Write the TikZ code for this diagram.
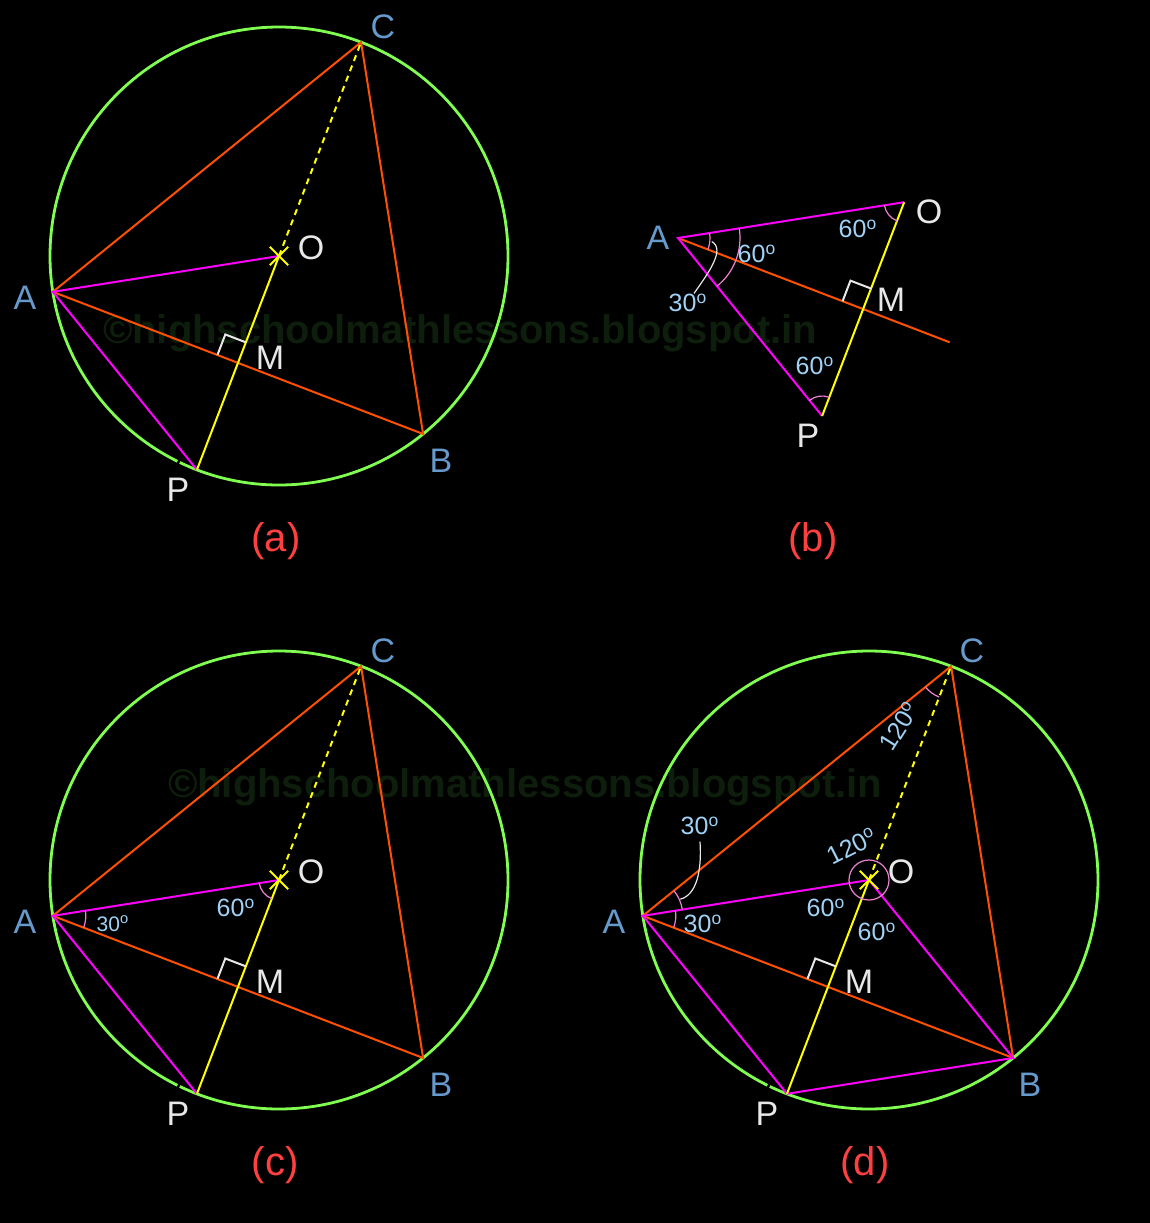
\documentclass[tikz,border=0pt]{standalone}
\usepackage{fontspec}
\setmainfont{Liberation Sans}
\usepackage{tikz}

\definecolor{rimgreen}{RGB}{128,255,80}
\definecolor{chordred}{RGB}{255,80,0}
\definecolor{spokemag}{RGB}{255,0,255}
\definecolor{axisyel}{RGB}{255,255,0}
\definecolor{ptblue}{RGB}{102,153,204}
\definecolor{degblue}{RGB}{160,210,245}
\definecolor{arcpink}{RGB}{240,130,210}
\definecolor{capred}{RGB}{255,64,64}
\definecolor{markgrey}{RGB}{232,232,232}
\definecolor{wmgreen}{RGB}{14,30,12}

\begin{document}
\begin{tikzpicture}[x=0.5pt,y=0.5pt,
    rim/.style={draw=rimgreen, line width=1.4pt},
    gapmark/.style={draw=black, line width=1.2pt},
    chord/.style={draw=chordred, line width=1pt},
    spoke/.style={draw=spokemag, line width=1pt},
    axis/.style={draw=axisyel, line width=1pt},
    dashaxis/.style={draw=axisyel, line width=1pt, dash pattern=on 3pt off 2.5pt},
    angarc/.style={draw=arcpink, line width=0.6pt},
    leader/.style={draw=markgrey, line width=0.6pt},
    rtmark/.style={draw=markgrey, line width=1pt},
    ptname/.style={text=ptblue, font=\fontsize{17}{17}\selectfont},
    ctrname/.style={text=markgrey, font=\fontsize{17}{17}\selectfont},
    deg/.style={text=degblue, font=\fontsize{12.5}{12.5}\selectfont, inner sep=0pt},
    smalldeg/.style={text=degblue, font=\fontsize{10.5}{10.5}\selectfont, inner sep=0pt},
    caption/.style={text=capred, font=\fontsize{20}{20}\selectfont},
    wmark/.style={text=wmgreen, font=\bfseries\fontsize{20}{20}\selectfont}]
    \useasboundingbox (0,0) rectangle (1150,-1223);
    \fill[black] (0,0) rectangle (1150,-1223);
    % Watermarks
    \node[wmark] (wm1) at (460,-333) {\textcopyright highschoolmathlessons.blogspot.in};
    \node[wmark] (wm2) at (525,-787) {\textcopyright highschoolmathlessons.blogspot.in};

    % (a)
    \coordinate (Oa) at (279,-256);
    \coordinate (Aa) at ([shift={(Oa)}]189:229);
    \coordinate (Ba) at ([shift={(Oa)}]309:229);
    \coordinate (Ca) at ([shift={(Oa)}]69:229);
    \coordinate (Pa) at ([shift={(Oa)}]249:229);
    \coordinate (Ma) at ([shift={(Oa)}]249:114.5);
    \draw[rim] (Oa) circle[radius=229];
    \draw[gapmark] ([shift={(Oa)}]244:224) -- ([shift={(Oa)}]244:234);
    \draw[chord] (Aa) -- (Ca) -- (Ba) -- cycle;
    \draw[spoke] (Pa) -- (Aa) -- (Oa);
    \draw[axis] (Pa) -- (Oa);
    \draw[dashaxis] (Oa) -- (Ca);
    \draw[axis] ([shift={(Oa)}]45:13) -- ([shift={(Oa)}]225:13);
    \draw[axis] ([shift={(Oa)}]135:13) -- ([shift={(Oa)}]315:13);
    \draw[rtmark] ([shift={(Ma)}]159:22) -- ++(69:22) -- ([shift={(Ma)}]69:22);
    \node[ptname] (lCa) at (383,-27) {C};
    \node[ptname] (lAa) at (25,-298) {A};
    \node[ptname] (lBa) at (441,-461) {B};
    \node[ctrname] (lOa) at (311,-248) {O};
    \node[ctrname] (lMa) at (270,-358) {M};
    \node[ctrname] (lPa) at (178,-490) {P};
    \node[caption] (capa) at (276,-541) {(a)};

    % (b)
    \coordinate (Ab) at (678,-238);
    \coordinate (Ob) at ([shift={(Ab)}]9:229);
    \coordinate (Pb) at ([shift={(Ab)}]-51:229);
    \coordinate (Mb) at ([shift={(Ab)}]-21:198.3);
    \coordinate (Eb) at ([shift={(Ab)}]-21:291);
    \draw[chord] (Ab) -- (Eb);
    \draw[spoke] (Ob) -- (Ab) -- (Pb);
    \draw[axis] (Pb) -- (Ob);
    \draw[rtmark] ([shift={(Mb)}]159:22) -- ++(69:22) -- ([shift={(Mb)}]69:22);
    \draw[angarc] ([shift={(Ab)}]-21:32) arc[start angle=-21, end angle=9, radius=32];
    \draw[angarc] ([shift={(Ab)}]-51:62) arc[start angle=-51, end angle=9, radius=62];
    \draw[angarc] ([shift={(Ob)}]189:20) arc[start angle=189, end angle=249, radius=20];
    \draw[angarc] ([shift={(Pb)}]69:20) arc[start angle=69, end angle=129, radius=20];
    \node[deg] (d60b) at (757,-254) {60\textsuperscript{o}};
    \node[deg] (d30b) at (688,-303) {30\textsuperscript{o}};
    \node[deg] (d60bo) at (858,-229) {60\textsuperscript{o}};
    \node[deg] (d60bp) at (815,-366) {60\textsuperscript{o}};
    \coordinate (kb) at ([shift={(Ab)}]-6:34);
    \draw[leader] (kb) .. controls +(14,-8) and +(14,20) .. ([xshift=3pt]d30b.north);
    \node[ptname] (lAb) at (658,-238) {A};
    \node[ctrname] (lOb) at (929,-212) {O};
    \node[ctrname] (lMb) at (891,-300) {M};
    \node[ctrname] (lPb) at (808,-436) {P};
    \node[caption] (capb) at (813,-541) {(b)};

    % (c)
    \coordinate (Oc) at (279,-880);
    \coordinate (Ac) at ([shift={(Oc)}]189:229);
    \coordinate (Bc) at ([shift={(Oc)}]309:229);
    \coordinate (Cc) at ([shift={(Oc)}]69:229);
    \coordinate (Pc) at ([shift={(Oc)}]249:229);
    \coordinate (Mc) at ([shift={(Oc)}]249:114.5);
    \draw[rim] (Oc) circle[radius=229];
    \draw[gapmark] ([shift={(Oc)}]244:224) -- ([shift={(Oc)}]244:234);
    \draw[chord] (Ac) -- (Cc) -- (Bc) -- cycle;
    \draw[spoke] (Pc) -- (Ac) -- (Oc);
    \draw[axis] (Pc) -- (Oc);
    \draw[dashaxis] (Oc) -- (Cc);
    \draw[axis] ([shift={(Oc)}]45:13) -- ([shift={(Oc)}]225:13);
    \draw[axis] ([shift={(Oc)}]135:13) -- ([shift={(Oc)}]315:13);
    \draw[rtmark] ([shift={(Mc)}]159:22) -- ++(69:22) -- ([shift={(Mc)}]69:22);
    \draw[angarc] ([shift={(Ac)}]-21:33) arc[start angle=-21, end angle=9, radius=33];
    \draw[angarc] ([shift={(Oc)}]189:20) arc[start angle=189, end angle=249, radius=20];
    \node[smalldeg] (d30c) at (113,-924) {30\textsuperscript{o}};
    \node[deg] (d60c) at (236,-908) {60\textsuperscript{o}};
    \node[ptname] (lCc) at (383,-651) {C};
    \node[ptname] (lAc) at (25,-922) {A};
    \node[ptname] (lBc) at (441,-1085) {B};
    \node[ctrname] (lOc) at (311,-872) {O};
    \node[ctrname] (lMc) at (270,-982) {M};
    \node[ctrname] (lPc) at (178,-1114) {P};
    \node[caption] (capc) at (275,-1165) {(c)};

    % (d)
    \coordinate (Od) at (869,-880);
    \coordinate (Ad) at ([shift={(Od)}]189:229);
    \coordinate (Bd) at ([shift={(Od)}]309:229);
    \coordinate (Cd) at ([shift={(Od)}]69:229);
    \coordinate (Pd) at ([shift={(Od)}]249:229);
    \coordinate (Md) at ([shift={(Od)}]249:114.5);
    \draw[rim] (Od) circle[radius=229];
    \draw[gapmark] ([shift={(Od)}]244:224) -- ([shift={(Od)}]244:234);
    \draw[chord] (Ad) -- (Cd) -- (Bd) -- cycle;
    \draw[spoke] (Pd) -- (Ad) -- (Od) -- (Bd) -- (Pd);
    \draw[axis] (Pd) -- (Od);
    \draw[dashaxis] (Od) -- (Cd);
    \draw[axis] ([shift={(Od)}]45:13) -- ([shift={(Od)}]225:13);
    \draw[axis] ([shift={(Od)}]135:13) -- ([shift={(Od)}]315:13);
    \draw[rtmark] ([shift={(Md)}]159:22) -- ++(69:22) -- ([shift={(Md)}]69:22);
    \draw[angarc] ([shift={(Ad)}]-21:33) arc[start angle=-21, end angle=9, radius=33];
    \draw[angarc] ([shift={(Ad)}]9:40) arc[start angle=9, end angle=39, radius=40];
    \draw[angarc] (Od) circle[radius=20];
    \draw[angarc] ([shift={(Cd)}]219:33) arc[start angle=219, end angle=249, radius=33];
    \node[deg] (d30d) at (703,-924) {30\textsuperscript{o}};
    \node[deg] (d30du) at (700,-826) {30\textsuperscript{o}};
    \node[deg] (d60d) at (826,-908) {60\textsuperscript{o}};
    \node[deg] (d60dr) at (877,-932) {60\textsuperscript{o}};
    \node[deg, rotate=27] (d120o) at (852,-846) {120\textsuperscript{o}};
    \node[deg, rotate=58] (d120c) at (899,-726) {120\textsuperscript{o}};
    \coordinate (kd) at ([shift={(Ad)}]24:41);
    \draw[leader] (kd) .. controls +(16,4) and +(2,-30) .. ([yshift=-3pt]d30du.south);
    \node[ptname] (lCd) at (972,-651) {C};
    \node[ptname] (lAd) at (614,-922) {A};
    \node[ptname] (lBd) at (1030,-1085) {B};
    \node[ctrname] (lOd) at (901,-872) {O};
    \node[ctrname] (lMd) at (859,-982) {M};
    \node[ctrname] (lPd) at (767,-1114) {P};
    \node[caption] (capd) at (865,-1165) {(d)};
\end{tikzpicture}
\end{document}
